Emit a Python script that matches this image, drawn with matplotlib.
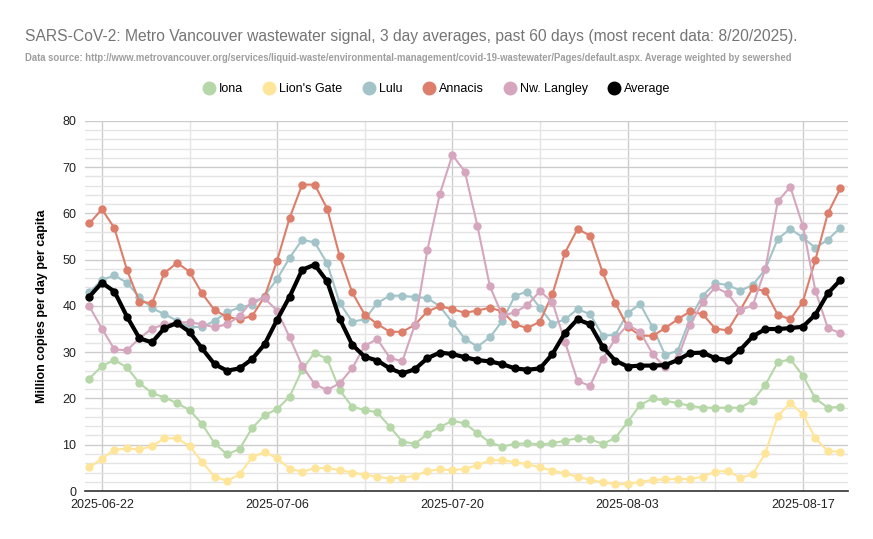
import numpy as np
import matplotlib
matplotlib.use("Agg")
import matplotlib.pyplot as plt
import matplotlib.dates as mdates
from matplotlib.lines import Line2D
from matplotlib.ticker import MultipleLocator

plt.rcParams['font.family'] = ['Liberation Sans', 'DejaVu Sans']

# 3 day averages, million copies per day per capita
start_date = np.datetime64('2025-06-21')
n_days = 61
dates = start_date + np.arange(n_days).astype('timedelta64[D]')

iona = [24.3, 27.0, 28.3, 26.7, 23.3, 21.2, 20.2, 19.0, 17.5, 14.5, 10.3, 7.9, 9.1, 13.6, 16.4, 17.7,
        20.4, 26.2, 29.9, 28.5, 21.8, 18.2, 17.5, 17.0, 13.9, 10.7, 10.2, 12.3, 13.8, 15.2, 14.6,
        12.5, 10.5, 9.6, 10.2, 10.3, 10.1, 10.3, 10.9, 11.4, 11.2, 10.2, 11.4, 14.9, 18.6, 20.0,
        19.5, 19.0, 18.4, 18.0, 18.0, 18.0, 18.0, 19.5, 22.9, 27.8, 28.5, 24.9, 20.0, 18.0, 18.2]
lions_gate = [5.1, 7.0, 8.9, 9.2, 9.0, 9.7, 11.4, 11.4, 9.7, 6.3, 3.1, 2.2, 3.6, 7.3, 8.4, 7.1,
              4.8, 4.2, 4.9, 5.0, 4.5, 4.0, 3.5, 3.1, 2.7, 2.9, 3.3, 4.3, 4.7, 4.5, 4.8,
              5.6, 6.6, 6.7, 6.2, 5.8, 5.1, 4.4, 3.8, 3.1, 2.4, 1.9, 1.5, 1.5, 2.0, 2.4,
              2.5, 2.6, 2.6, 3.1, 4.2, 4.3, 2.9, 3.6, 8.2, 16.2, 19.0, 16.6, 11.4, 8.6, 8.5]
lulu = [42.9, 45.6, 46.6, 45.0, 41.9, 39.5, 38.2, 36.8, 35.5, 35.4, 36.8, 38.6, 39.7, 40.2, 42.2, 45.8,
        50.4, 54.3, 53.7, 49.2, 40.6, 36.6, 37.1, 40.6, 42.2, 42.2, 41.9, 41.7, 39.9, 36.4, 32.9,
        31.2, 33.2, 36.8, 42.2, 43.1, 39.6, 36.1, 37.1, 39.3, 38.2, 33.6, 33.7, 38.4, 40.4, 35.4,
        29.4, 30.3, 37.3, 42.2, 44.9, 44.5, 43.3, 44.5, 47.9, 54.5, 56.6, 54.8, 52.5, 54.3, 56.9]
annacis = [57.8, 60.9, 56.8, 47.8, 40.9, 40.6, 47.1, 49.3, 47.4, 42.7, 39.1, 37.6, 37.1, 37.8, 42.0, 49.8,
           59.0, 66.2, 66.2, 61.0, 50.7, 42.9, 38.1, 36.1, 34.4, 34.4, 35.9, 38.8, 39.9, 39.3, 38.5,
           39.0, 39.6, 38.8, 36.0, 35.2, 36.6, 42.6, 51.5, 56.6, 55.2, 47.3, 40.7, 35.5, 33.6, 33.5,
           35.2, 37.1, 38.8, 38.2, 35.1, 34.7, 39.1, 43.8, 43.2, 38.1, 37.1, 40.9, 49.9, 60.0, 65.4]
nw_langley = [39.9, 35.1, 30.6, 30.4, 33.0, 35.1, 36.0, 36.4, 36.5, 36.0, 35.4, 36.0, 37.8, 41.1, 41.6, 39.0,
              33.2, 27.0, 23.1, 21.8, 23.3, 26.5, 31.4, 32.8, 28.8, 28.0, 35.9, 52.0, 64.2, 72.6, 69.0,
              57.3, 44.2, 37.9, 38.6, 40.2, 43.2, 40.8, 32.2, 23.8, 22.7, 28.5, 32.8, 35.9, 34.4, 29.6,
              26.7, 28.7, 35.9, 40.9, 44.0, 42.7, 39.1, 40.1, 47.9, 62.6, 65.7, 57.3, 43.3, 35.2, 34.1]
average = [42.0, 45.0, 43.1, 37.7, 33.0, 32.1, 35.2, 36.3, 34.4, 30.8, 27.4, 26.0, 26.5, 28.5, 31.7, 37.0,
           42.0, 47.8, 48.9, 45.3, 37.2, 31.6, 29.0, 28.2, 26.5, 25.4, 26.3, 28.7, 29.9, 29.6, 28.9,
           28.3, 28.0, 27.4, 26.5, 26.2, 26.5, 29.6, 34.2, 37.1, 36.0, 31.2, 28.2, 26.9, 27.1, 27.1,
           27.2, 28.3, 29.8, 29.9, 28.7, 28.3, 30.5, 33.4, 35.0, 35.0, 35.2, 35.5, 38.1, 42.7, 45.6]

labels = ['Iona', "Lion's Gate", 'Lulu', 'Annacis', 'Nw. Langley', 'Average']
colors = ['#b6d7a8', '#ffe599', '#a2c4c9', '#dd7e6b', '#d5a6bd', '#000000']
series = [iona, lions_gate, lulu, annacis, nw_langley, average]

fig = plt.figure(figsize=(8.73, 5.39), dpi=100)
ax = fig.add_axes([0.097, 0.089, 0.874, 0.687])

for name, col, vals in zip(labels, colors, series):
    if name == 'Average':
        ax.plot(dates, vals, color=col, lw=3.0, marker='o', ms=5, zorder=5, solid_joinstyle='round')
    else:
        ax.plot(dates, vals, color=col, lw=1.5, marker='o', ms=5, zorder=3)

ax.set_ylim(0, 80)
ax.set_xlim(dates[0] - np.timedelta64(9, 'h'), dates[-1] + np.timedelta64(14, 'h'))
ax.yaxis.set_major_locator(MultipleLocator(10))
ax.yaxis.set_minor_locator(MultipleLocator(2))

major_days = [np.datetime64('2025-06-22') + np.timedelta64(14 * k, 'D') for k in range(5)]
minor_days = [np.datetime64('2025-06-29') + np.timedelta64(14 * k, 'D') for k in range(4)]
ax.set_xticks(major_days)
ax.set_xticks(minor_days, minor=True)
ax.xaxis.set_major_formatter(mdates.DateFormatter('%Y-%m-%d'))

ax.grid(which='major', color='#cccccc', lw=1.0)
ax.grid(which='minor', color='#e4e4e4', lw=1.0)
ax.set_axisbelow(True)
for s in ['top', 'right', 'left']:
    ax.spines[s].set_visible(False)
ax.spines['bottom'].set_color('#333333')
ax.spines['bottom'].set_linewidth(1.2)
ax.tick_params(which='both', length=0)
ax.tick_params(axis='both', labelsize=9, colors='#222222', pad=6)

ax.set_ylabel('Million copies per day per capita', fontsize=9, fontweight='bold', labelpad=10)

fig.text(0.029, 0.932, 'SARS-CoV-2: Metro Vancouver wastewater signal, 3 day averages, past 60 days (most recent data: 8/20/2025).',
         fontsize=11.25, color='#757575', va='center')
fig.text(0.029, 0.893, 'Data source: http://www.metrovancouver.org/services/liquid-waste/environmental-management/covid-19-wastewater/Pages/default.aspx. Average weighted by sewershed',
         fontsize=6.85, color='#9e9e9e', fontweight='bold', va='center')

handles = [Line2D([], [], color=c, marker='o', ls='none', ms=9) for c in colors]
fig.legend(handles, labels, loc='center', bbox_to_anchor=(0.5, 0.835), ncol=6, frameon=False,
           fontsize=9, handletextpad=0.3, columnspacing=1.6, handlelength=1.0)

fig.savefig('out.png', dpi=100)
